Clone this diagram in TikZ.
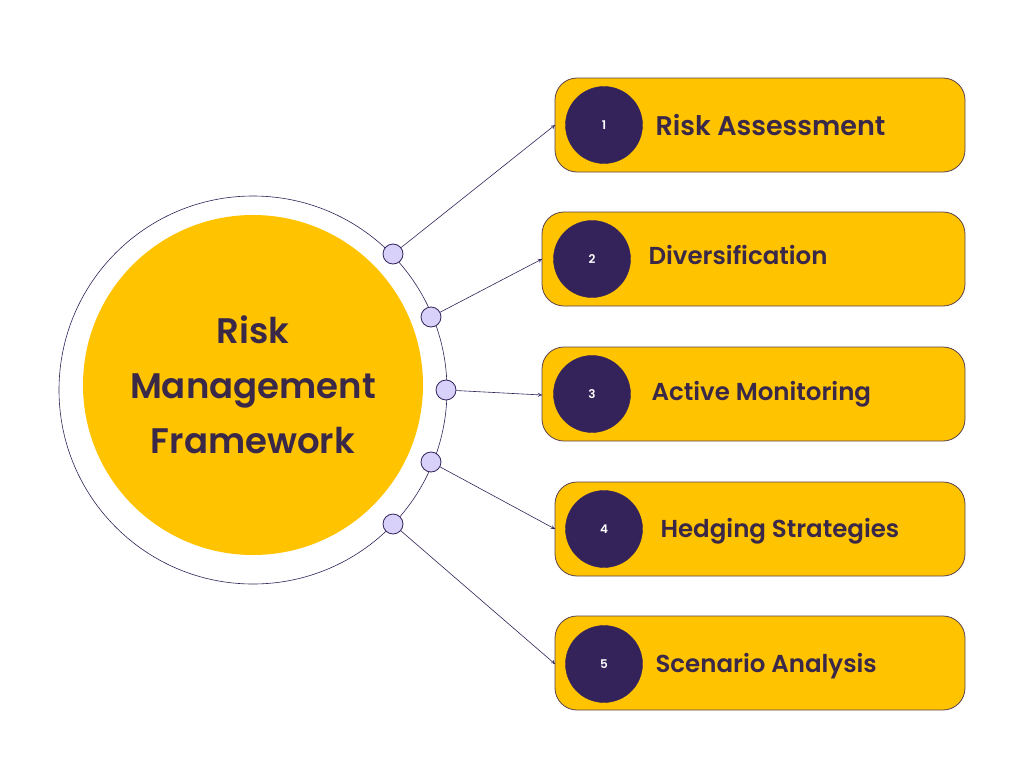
\documentclass[tikz,border=0pt]{standalone}
\usepackage{fontspec}
\setmainfont{Poppins}[BoldFont={Poppins SemiBold}]
\usetikzlibrary{arrows.meta}
\definecolor{gold}{HTML}{FFC300}
\definecolor{deep}{HTML}{33235A}
\definecolor{ink}{HTML}{3A2848}
\definecolor{lav}{HTML}{D8D2FA}
\tikzset{
  x=1pt, y=-1pt,
  stepbox/.style={draw=deep!80!gold, line width=0.8pt, fill=gold, rounded corners=22pt},
  numdot/.style={circle, fill=deep, draw=deep, minimum size=77pt, inner sep=0pt, text=white, font=\bfseries\fontsize{12}{12}\selectfont},
  knob/.style={circle, fill=lav, draw=deep, line width=0.8pt, minimum size=20pt, inner sep=0pt},
  label/.style={anchor=west, text=ink, font=\bfseries\fontsize{24.5}{24.5}\selectfont},
  conn/.style={draw=deep, line width=0.6pt, -{To[length=4pt,width=4pt]}},
}
\begin{document}
\begin{tikzpicture}
\useasboundingbox[fill=white] (0,0) rectangle (1024,768);
% central circles
\node[circle, draw=deep, line width=0.6pt, minimum size=388pt, inner sep=0pt] (ring) at (253,390) {};
\node[circle, fill=gold, minimum size=340pt, inner sep=0pt, align=center, text=ink,
  font=\bfseries\fontsize{35.5}{55}\selectfont] (hub) at (253,385) {Risk\\Management\\Framework};
% knobs
\node[knob] (k1) at (393,254) {};
\node[knob] (k2) at (431,317) {};
\node[knob] (k3) at (446,390) {};
\node[knob] (k4) at (431,462) {};
\node[knob] (k5) at (393,524) {};
% boxes
\draw[stepbox] (555,78) rectangle (965,172);
\draw[stepbox] (542,212) rectangle (965,306);
\draw[stepbox] (542,347) rectangle (965,441);
\draw[stepbox] (555,482) rectangle (965,576);
\draw[stepbox] (555,616) rectangle (965,710);
\coordinate (b1) at (555,125);
\coordinate (b2) at (542,259);
\coordinate (b3) at (542,395);
\coordinate (b4) at (555,529);
\coordinate (b5) at (555,664);
\node[numdot] (n1) at (604,125) {1};
\node[numdot] (n2) at (592,259) {2};
\node[numdot] (n3) at (592,394) {3};
\node[numdot] (n4) at (604,529) {4};
\node[numdot] (n5) at (604,664) {5};
\node[label, font=\bfseries\fontsize{27}{27}\selectfont] (t1) at (652,125) {Risk Assessment};
\node[label] (t2) at (645,255) {Diversification};
\node[label] (t3) at (648,394) {Active Monitoring};
\node[label] (t4) at (657,531) {Hedging Strategies};
\node[label] (t5) at (652,666) {Scenario Analysis};
% connectors
\draw[conn] (k1) -- (b1);
\draw[conn] (k2) -- (b2);
\draw[conn] (k3) -- (b3);
\draw[conn] (k4) -- (b4);
\draw[conn] (k5) -- (b5);
\end{tikzpicture}
\end{document}
